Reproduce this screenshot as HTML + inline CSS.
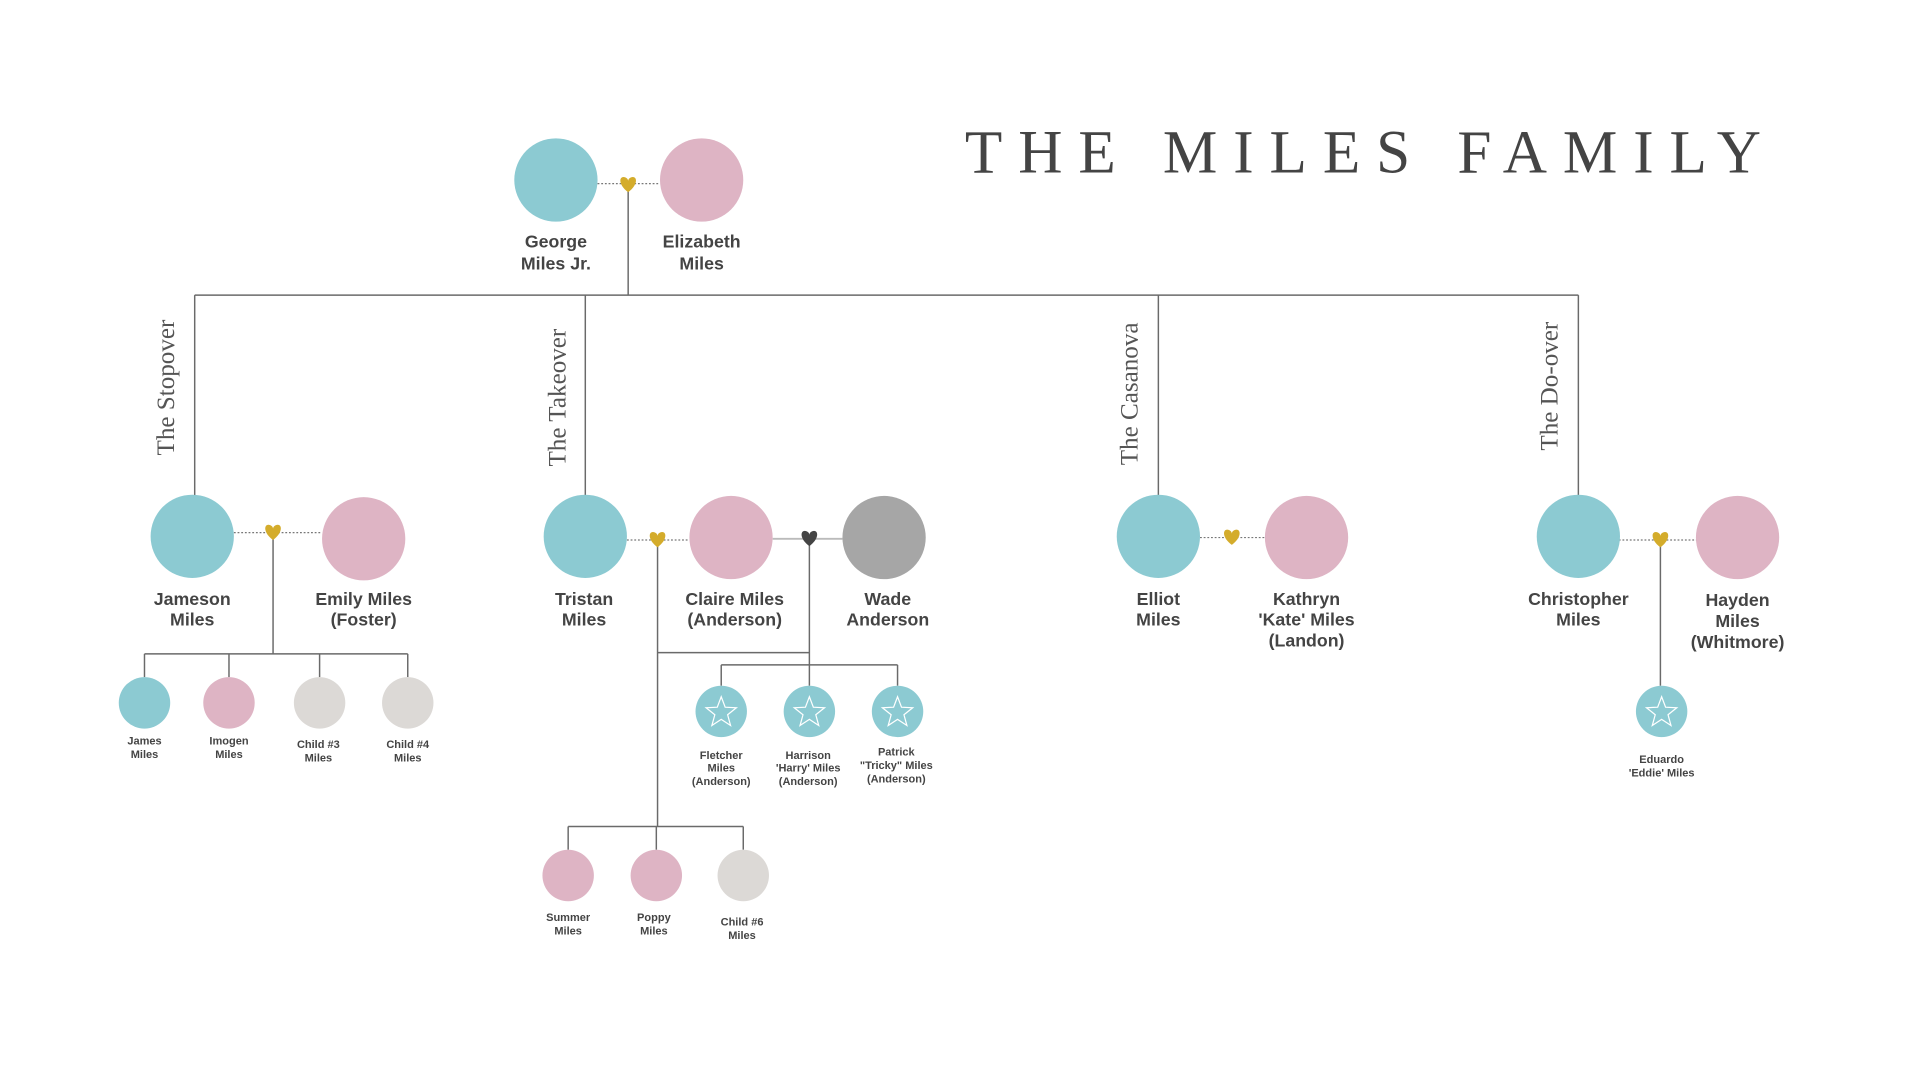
<!DOCTYPE html>
<html><head><meta charset="utf-8"><style>html,body{margin:0;padding:0;background:#fff;width:1920px;height:1080px;overflow:hidden}</style></head>
<body>
<svg width="1920" height="1080" viewBox="0 0 1568 882" xmlns="http://www.w3.org/2000/svg">
<defs>
<path id="h" d="M0,6 C-8,0 -7.5,-6.5 -3.8,-6.5 C-1.8,-6.5 0,-5 0,-3.2 C0,-5 1.8,-6.5 3.8,-6.5 C7.5,-6.5 8,0 0,6Z"/>
<polygon id="s" points="0,-13 3.23,-4.45 12.36,-4.02 5.23,1.7 7.64,10.52 0,5.5 -7.64,10.52 -5.23,1.7 -12.36,-4.02 -3.23,-4.45" fill="none" stroke="#fff" stroke-width="1"/>
</defs>
<rect width="1568" height="882" fill="#fff"/>
<text x="788" y="141" font-family="Liberation Serif, serif" font-size="50" letter-spacing="13" fill="#444">THE MILES FAMILY</text>

<g stroke="#6a6a6a" stroke-width="1.2" fill="none">
<path d="M513,150V241M159,241H1289M159,241V405M478,241V405M946,241V405M1289,241V405"/>
<path d="M223,435V534M118,534H333M118,534V553M187,534V553M261,534V553M333,534V553"/>
<path d="M537,441V675M537,533H661M661,440V543M589,543H733M589,543V560M661,543V560M733,543V560"/>
<path d="M464,675H607M464,675V694M536,675V694M607,675V694"/>
<path d="M1356,441V560"/>
</g>
<g stroke="#777" stroke-width="1" stroke-dasharray="1.5,1.5">
<path d="M488,150H539M191,435H262M512,441H563M980,439H1034M1322,441H1386"/>
</g>
<path d="M631,440H688" stroke="#bbb" stroke-width="1.5"/>

<g font-family="Liberation Serif, serif" font-size="20.5" fill="#555">
<text transform="translate(142,372) rotate(-90)">The Stopover</text>
<text transform="translate(462,381) rotate(-90)">The Takeover</text>
<text transform="translate(929,380) rotate(-90)">The Casanova</text>
<text transform="translate(1272,368) rotate(-90)">The Do-over</text>
</g>

<g>
<circle cx="454" cy="147" r="34" fill="#8ccad2"/><circle cx="573" cy="147" r="34" fill="#deb4c4"/>
<circle cx="157" cy="438" r="34" fill="#8ccad2"/><circle cx="297" cy="440" r="34" fill="#deb4c4"/>
<circle cx="478" cy="438" r="34" fill="#8ccad2"/><circle cx="597" cy="439" r="34" fill="#deb4c4"/>
<circle cx="722" cy="439" r="34" fill="#a6a6a6"/>
<circle cx="946" cy="438" r="34" fill="#8ccad2"/><circle cx="1067" cy="439" r="34" fill="#deb4c4"/>
<circle cx="1289" cy="438" r="34" fill="#8ccad2"/><circle cx="1419" cy="439" r="34" fill="#deb4c4"/>
<circle cx="118" cy="574" r="21" fill="#8ccad2"/><circle cx="187" cy="574" r="21" fill="#deb4c4"/>
<circle cx="261" cy="574" r="21" fill="#dcd9d6"/><circle cx="333" cy="574" r="21" fill="#dcd9d6"/>
<circle cx="589" cy="581" r="21" fill="#8ccad2"/><circle cx="661" cy="581" r="21" fill="#8ccad2"/><circle cx="733" cy="581" r="21" fill="#8ccad2"/>
<circle cx="1357" cy="581" r="21" fill="#8ccad2"/>
<circle cx="464" cy="715" r="21" fill="#deb4c4"/><circle cx="536" cy="715" r="21" fill="#deb4c4"/><circle cx="607" cy="715" r="21" fill="#dcd9d6"/>
</g>
<use href="#s" x="589" y="582"/><use href="#s" x="661" y="582"/><use href="#s" x="733" y="582"/><use href="#s" x="1357" y="582"/>

<g fill="#d4ac2b">
<use href="#h" x="513" y="151"/><use href="#h" x="223" y="435"/><use href="#h" x="537" y="441"/>
<use href="#h" x="1006" y="439"/><use href="#h" x="1356" y="441"/>
</g>
<use href="#h" x="661" y="440" fill="#444"/>

<g font-family="Liberation Sans, sans-serif" font-weight="bold" font-size="14.5" fill="#444" text-anchor="middle">
<text x="454" y="202">George</text><text x="454" y="220">Miles Jr.</text>
<text x="573" y="202">Elizabeth</text><text x="573" y="220">Miles</text>
<text x="157" y="494">Jameson</text><text x="157" y="511">Miles</text>
<text x="297" y="494">Emily Miles</text><text x="297" y="511">(Foster)</text>
<text x="477" y="494">Tristan</text><text x="477" y="511">Miles</text>
<text x="600" y="494">Claire Miles</text><text x="600" y="511">(Anderson)</text>
<text x="725" y="494">Wade</text><text x="725" y="511">Anderson</text>
<text x="946" y="494">Elliot</text><text x="946" y="511">Miles</text>
<text x="1067" y="494">Kathryn</text><text x="1067" y="511">'Kate' Miles</text><text x="1067" y="528">(Landon)</text>
<text x="1289" y="494">Christopher</text><text x="1289" y="511">Miles</text>
<text x="1419" y="495">Hayden</text><text x="1419" y="512">Miles</text><text x="1419" y="529">(Whitmore)</text>
</g>
<g font-family="Liberation Sans, sans-serif" font-weight="bold" font-size="9" fill="#444" text-anchor="middle">
<text x="118" y="608">James</text><text x="118" y="619">Miles</text>
<text x="187" y="608">Imogen</text><text x="187" y="619">Miles</text>
<text x="260" y="611">Child #3</text><text x="260" y="622">Miles</text>
<text x="333" y="611">Child #4</text><text x="333" y="622">Miles</text>
<text x="589" y="620">Fletcher</text><text x="589" y="630">Miles</text><text x="589" y="641">(Anderson)</text>
<text x="660" y="620">Harrison</text><text x="660" y="630">'Harry' Miles</text><text x="660" y="641">(Anderson)</text>
<text x="732" y="617">Patrick</text><text x="732" y="628">"Tricky" Miles</text><text x="732" y="639">(Anderson)</text>
<text x="1357" y="623">Eduardo</text><text x="1357" y="634">'Eddie' Miles</text>
<text x="464" y="752">Summer</text><text x="464" y="763">Miles</text>
<text x="534" y="752">Poppy</text><text x="534" y="763">Miles</text>
<text x="606" y="756">Child #6</text><text x="606" y="767">Miles</text>
</g>
</svg>
</body></html>
